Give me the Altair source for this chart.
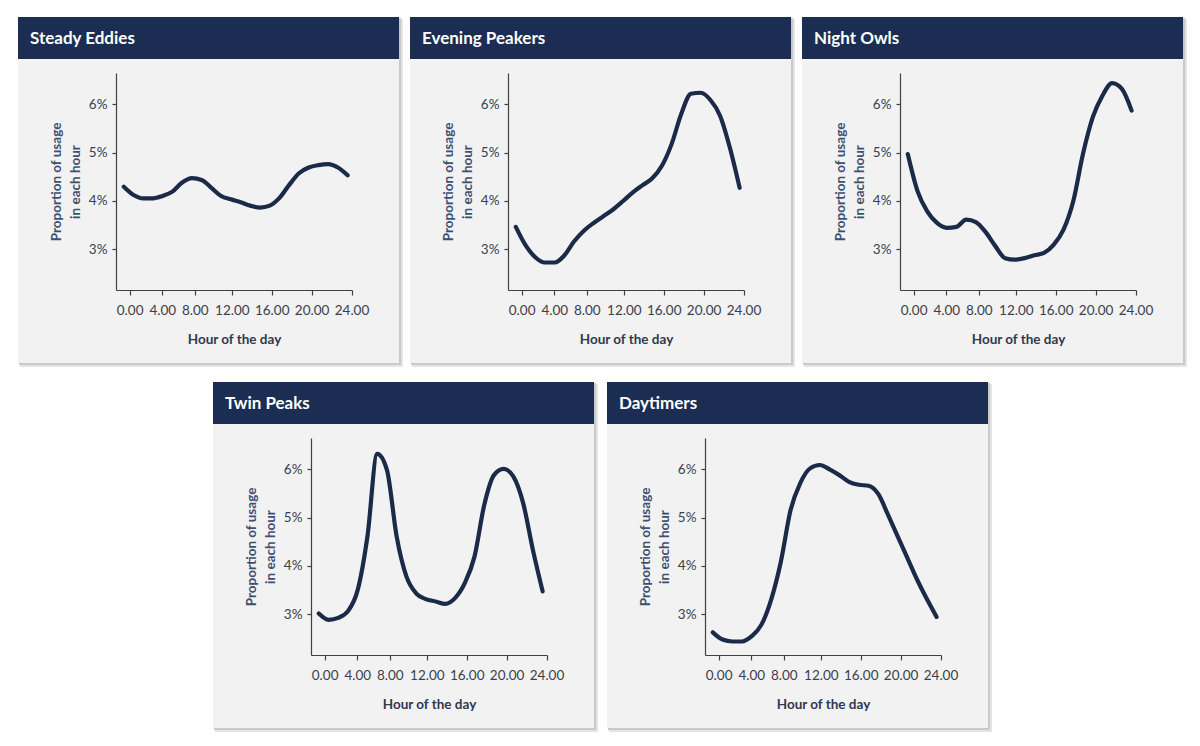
import altair as alt
import pandas as pd

# ---- data ----
hours = list(range(24))

panel_names = ["Steady Eddies", "Evening Peakers", "Night Owls", "Twin Peaks", "Daytimers"]

steady_eddies = [4.29, 4.12, 4.05, 4.05, 4.10, 4.19, 4.38, 4.47, 4.43, 4.27, 4.10, 4.03,
                 3.97, 3.90, 3.86, 3.90, 4.06, 4.33, 4.57, 4.69, 4.74, 4.76, 4.69, 4.53]
evening_peakers = [3.46, 3.08, 2.83, 2.72, 2.72, 2.87, 3.16, 3.38, 3.54, 3.68, 3.82, 3.99,
                   4.17, 4.32, 4.46, 4.72, 5.17, 5.80, 6.22, 6.24, 6.09, 5.76, 5.10, 4.27]
night_owls = [4.97, 4.20, 3.78, 3.54, 3.44, 3.46, 3.61, 3.56, 3.35, 3.06, 2.81, 2.78,
              2.81, 2.87, 2.92, 3.09, 3.40, 3.99, 4.97, 5.73, 6.18, 6.44, 6.32, 5.87]
twin_peaks = [3.01, 2.88, 2.92, 3.06, 3.50, 4.61, 6.32, 5.99, 4.61, 3.78, 3.43, 3.31,
              3.26, 3.21, 3.33, 3.64, 4.19, 5.26, 5.88, 6.01, 5.85, 5.30, 4.33, 3.47]
daytimers = [2.62, 2.47, 2.43, 2.43, 2.54, 2.78, 3.30, 4.09, 5.16, 5.72, 6.02, 6.09,
             6.00, 5.88, 5.74, 5.68, 5.66, 5.49, 5.06, 4.61, 4.16, 3.71, 3.31, 2.94]

series = [steady_eddies, evening_peakers, night_owls, twin_peaks, daytimers]

# x-axis tick positions (as they sit along the hourly points) and their labels
x_tick_pos = [0.6, 3.95, 7.3, 11.1, 15.2, 19.3, 23.4]
x_tick_labels = ["0.00", "4.00", "8.00", "12.00", "16.00", "20.00", "24.00"]
y_ticks = [3, 4, 5, 6]

# ---- styling ----
NAVY = "#1b2d52"
LINE = "#1b2a48"
PANEL_BG = "#f2f2f2"
FONT = "Lato"
PW, PH = 236, 217


def label_expr():
    parts = []
    for p, lab in zip(x_tick_pos, x_tick_labels):
        parts.append(f"abs(datum.value - {p}) < 0.01 ? '{lab}'")
    return " : ".join(parts) + " : ''"


def panel(name, vals):
    df = pd.DataFrame({"hour": hours, "value": vals})
    one = alt.Chart(pd.DataFrame({"k": [0]}))

    shadow2 = one.mark_rect(color="#e4e4e4").encode(
        x=alt.value(-96), x2=alt.value(287), y=alt.value(-54), y2=alt.value(294))
    shadow1 = one.mark_rect(color="#c9c9c9").encode(
        x=alt.value(-97), x2=alt.value(285), y=alt.value(-55), y2=alt.value(292))
    box = one.mark_rect(color=PANEL_BG).encode(
        x=alt.value(-98), x2=alt.value(283), y=alt.value(-56), y2=alt.value(290))
    bar = one.mark_rect(color=NAVY).encode(
        x=alt.value(-98), x2=alt.value(283), y=alt.value(-56), y2=alt.value(-14))
    title = one.mark_text(
        color="white", font=FONT, fontSize=17, fontWeight="bold",
        align="left", baseline="middle").encode(
        x=alt.value(-86), y=alt.value(-34), text=alt.value(name))

    line = alt.Chart(df).mark_line(
        color=LINE, strokeWidth=4.2, interpolate="monotone", strokeCap="round",
        strokeJoin="round").encode(
        x=alt.X("hour:Q",
                scale=alt.Scale(domain=[-0.8, 23.45], nice=False, zero=False),
                axis=alt.Axis(values=x_tick_pos, labelExpr=label_expr(),
                              title="Hour of the day", grid=False, zindex=2,
                              labelOverlap=False, labelBound=False,
                              labelFlush=False,
                              tickSize=5, labelPadding=8, titlePadding=16)),
        y=alt.Y("value:Q",
                scale=alt.Scale(domain=[2.15, 6.65], nice=False, zero=False),
                axis=alt.Axis(values=y_ticks, labelExpr="datum.value + '%'",
                              title=["Proportion of usage", "in each hour"],
                              grid=False, titleColor="#3d4f73", zindex=2,
                              labelOverlap=False, labelFlush=False,
                              titleLineHeight=19, titlePadding=6,
                              tickSize=4, labelPadding=5)),
    )
    return alt.layer(shadow2, shadow1, box, bar, title, line).properties(
        width=PW, height=PH)


panels = [panel(n, s) for n, s in zip(panel_names, series)]

row1 = alt.hconcat(*panels[:3], spacing=7)
row2 = alt.hconcat(*panels[3:], spacing=9)

chart = alt.vconcat(row1, row2, spacing=15, center=True).properties(
    padding={"left": 10, "top": 9, "right": 5, "bottom": 5},
    background="white",
).configure_view(stroke=None).configure_axis(
    labelFont=FONT, labelFontSize=13.5, labelColor="#3a404c",
    titleFont=FONT, titleFontSize=13.5, titleFontWeight="bold", titleColor="#2e3a4f",
    domainColor="#404040", tickColor="#404040", domainWidth=1.2, tickWidth=1.2,
)

chart.save("out.html", embed_options={"renderer": "svg", "actions": False})
